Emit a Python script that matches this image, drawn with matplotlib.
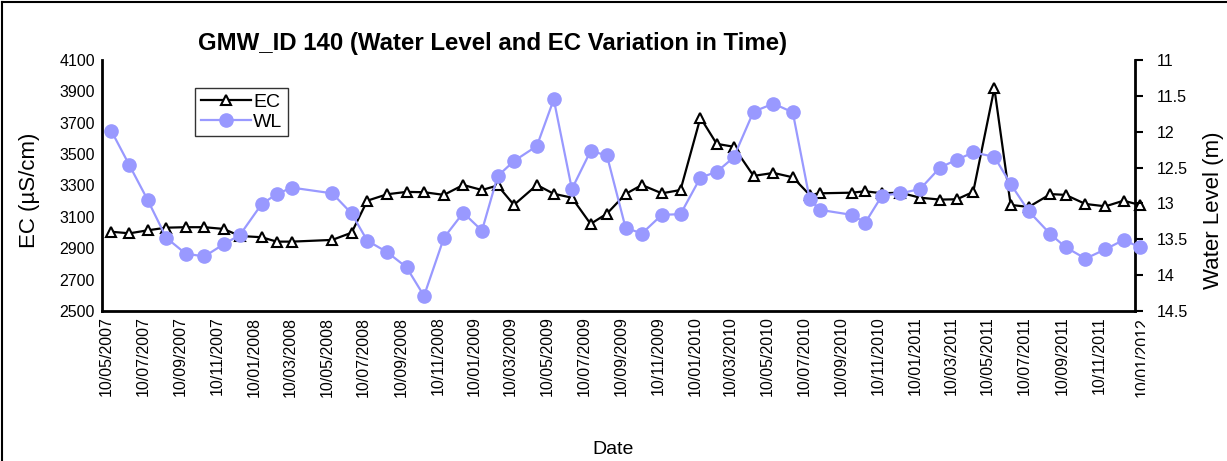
import matplotlib
matplotlib.use("Agg")
import matplotlib.pyplot as plt
import matplotlib.dates as mdates
from matplotlib.lines import Line2D
from matplotlib.patches import Rectangle
from matplotlib.transforms import blended_transform_factory, offset_copy
import pandas as pd

# sampling dates
dates = [
    "2007-05-19", "2007-06-18", "2007-07-18", "2007-08-18", "2007-09-19", "2007-10-20",
    "2007-11-21", "2007-12-18", "2008-01-23", "2008-02-17", "2008-03-13", "2008-05-19",
    "2008-06-20", "2008-07-16", "2008-08-18", "2008-09-19", "2008-10-18", "2008-11-20",
    "2008-12-22", "2009-01-22", "2009-02-17", "2009-03-16", "2009-04-23", "2009-05-21",
    "2009-06-20", "2009-07-21", "2009-08-17", "2009-09-17", "2009-10-14", "2009-11-16",
    "2009-12-17", "2010-01-19", "2010-02-15", "2010-03-15", "2010-04-17", "2010-05-20",
    "2010-06-21", "2010-07-19", "2010-08-05", "2010-09-27", "2010-10-19", "2010-11-16",
    "2010-12-16", "2011-01-18", "2011-02-20", "2011-03-20", "2011-04-16", "2011-05-21",
    "2011-06-17", "2011-07-17", "2011-08-22", "2011-09-16", "2011-10-19", "2011-11-21",
    "2011-12-21", "2012-01-17",
]

ec = [
    3005, 2995, 3014, 3031, 3034, 3034, 3023, 2978, 2970, 2942, 2942, 2953,
    2999, 3203, 3244, 3259, 3257, 3240, 3303, 3271, 3300, 3176, 3303, 3247,
    3222, 3055, 3120, 3246, 3303, 3250, 3271, 3732, 3565, 3547, 3361, 3380,
    3352, 3240, 3250, 3254, 3263, 3250, 3254, 3222, 3210, 3212, 3259, 3920,
    3176, 3163, 3245, 3240, 3182, 3167, 3203, 3176,
]

wl = [
    11.99, 12.47, 12.95, 13.48, 13.70, 13.74, 13.57, 13.44, 13.01, 12.87, 12.78, 12.86,
    13.14, 13.52, 13.68, 13.89, 14.29, 13.48, 13.13, 13.38, 12.62, 12.41, 12.20, 11.55,
    12.80, 12.27, 12.33, 13.34, 13.42, 13.16, 13.15, 12.64, 12.56, 12.36, 11.72, 11.61,
    11.73, 12.94, 13.09, 13.16, 13.27, 12.89, 12.86, 12.80, 12.50, 12.39, 12.29, 12.35,
    12.73, 13.11, 13.43, 13.61, 13.77, 13.64, 13.51, 13.61,
]

ec_ticks = list(range(2500, 4101, 200))
wl_ticks = [11, 11.5, 12, 12.5, 13, 13.5, 14, 14.5]
last_tick = "2012-01-10"

plt.rcParams["font.family"] = ["Liberation Sans", "DejaVu Sans"]

t = pd.to_datetime(dates)
wl_color = "#9999FF"

fig = plt.figure(figsize=(12.27, 4.61), dpi=100)
ax = fig.add_axes([0.0829, 0.3254, 0.8421, 0.5446])
ax2 = ax.twinx()

ax.plot(t, ec, color="black", lw=1.6, marker="^", ms=7.5, mfc="white",
        mec="black", mew=1.5, label="EC", clip_on=False, zorder=3)
ax2.plot(t, wl, color=wl_color, lw=1.6, marker="o", ms=9.5, mfc=wl_color,
         mec=wl_color, label="WL", clip_on=False, zorder=3)

ax.set_ylim(2500, 4100)
ax.set_yticks(ec_ticks)
ax2.set_ylim(14.5, 11)
ax2.set_yticks(wl_ticks)
ax2.set_yticklabels([f"{v:g}" for v in wl_ticks])

ax.set_xlim(pd.Timestamp("2007-05-03"), pd.Timestamp("2012-01-09"))
ax.xaxis.set_major_locator(mdates.MonthLocator(bymonth=[1, 3, 5, 7, 9, 11], bymonthday=10))
ax.xaxis.set_major_formatter(mdates.DateFormatter("%d/%m/%Y"))
for lab in ax.get_xticklabels():
    lab.set_rotation(90)

# the last date label sits past the axis end and is cut off in the original
trans = offset_copy(blended_transform_factory(ax.transData, ax.transAxes),
                    fig=fig, x=7, y=0, units="dots")
ax.text(pd.Timestamp(last_tick), -0.025, pd.Timestamp(last_tick).strftime("%d/%m/%Y"),
        transform=trans, rotation=90, ha="center", va="top", fontsize=11.5,
        clip_on=False)
fig.add_artist(Rectangle((1145 / 1227, 50 / 461), 25 / 1227, 92 / 461,
                         transform=fig.transFigure, facecolor="white",
                         edgecolor="none", zorder=10))

for a in (ax, ax2):
    a.spines["top"].set_visible(False)
    for s in ("left", "right", "bottom"):
        a.spines[s].set_linewidth(2)
ax.spines["right"].set_visible(False)
ax2.spines["left"].set_visible(False)
ax2.spines["bottom"].set_visible(False)
ax.tick_params(axis="y", length=0, pad=5, labelsize=11.5)
ax2.tick_params(axis="y", direction="out", length=6, width=1.5, pad=10, labelsize=11.5)
ax.tick_params(axis="x", length=0, labelsize=11.5, pad=4)

ax.set_ylabel("EC (µS/cm)", fontsize=16)
ax.yaxis.set_label_coords(-0.06, 0.48)
ax2.set_ylabel("Water Level (m)", fontsize=16)
ax2.yaxis.set_label_coords(1.066, 0.40)
ax.set_xlabel("Date", fontsize=14)
ax.xaxis.set_label_coords(0.495, -0.518)

ax.set_title("GMW_ID 140 (Water Level and EC Variation in Time)",
             fontsize=17.3, fontweight="bold", x=0.378, y=1.008)

h1, l1 = ax.get_legend_handles_labels()
h2, l2 = ax2.get_legend_handles_labels()
leg = ax2.legend(h1 + h2, l1 + l2, loc="upper left", bbox_to_anchor=(0.09, 0.89),
                 frameon=True, fancybox=False, edgecolor="black", fontsize=14,
                 numpoints=1, handlelength=2.6, borderpad=0.3, labelspacing=0.1,
                 handletextpad=0.1, borderaxespad=0)
leg.get_frame().set_linewidth(1.0)

# chart-area border (left and top edges are visible in the original)
fig.add_artist(Line2D([0.002, 0.002], [0, 0.995], transform=fig.transFigure, color="black", lw=1.5))
fig.add_artist(Line2D([0.002, 1], [0.995, 0.995], transform=fig.transFigure, color="black", lw=1.5))

fig.savefig("out.png", dpi=100)
